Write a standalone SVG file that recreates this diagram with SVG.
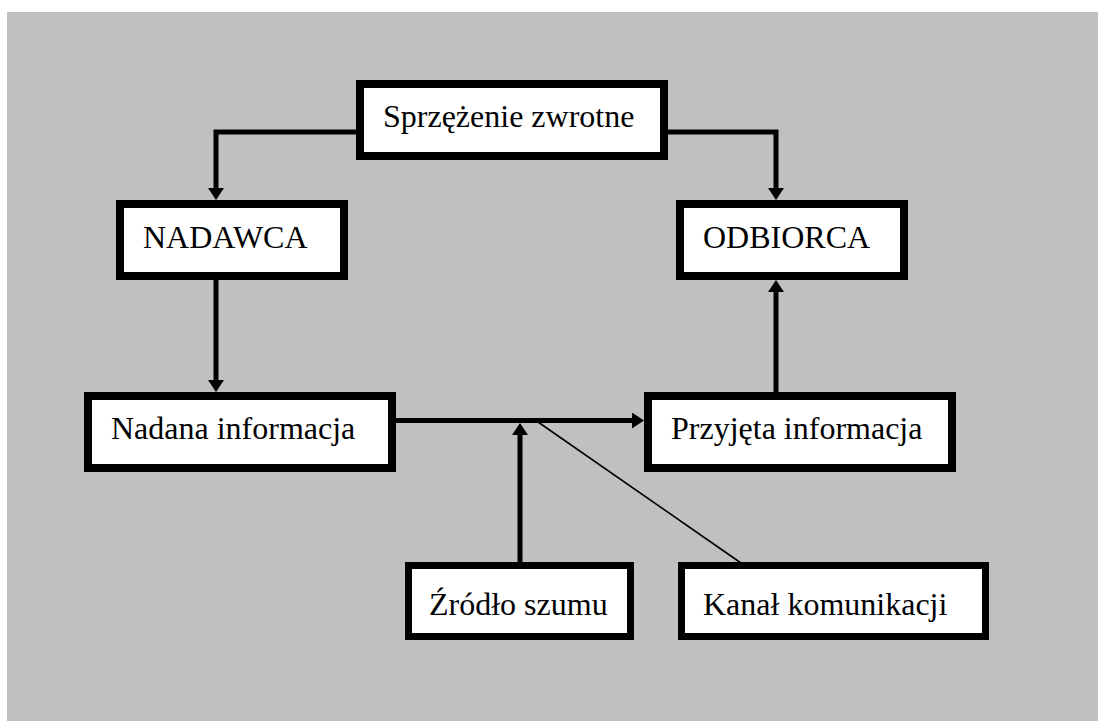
<svg xmlns="http://www.w3.org/2000/svg" width="1098" height="723" viewBox="0 0 1098 723">
<style>
.box{fill:#fff;stroke:#000;stroke-width:8}
.box2{fill:#fff;stroke:#000;stroke-width:7}
.lbl{font-size:32px;fill:#000}
.con{fill:none;stroke:#000;stroke-width:5;stroke-linejoin:miter}
.thin{fill:none;stroke:#000;stroke-width:1.6}
</style>
<defs>
<marker id="ah" viewBox="0 0 12 16" refX="0" refY="8" markerWidth="12" markerHeight="16" markerUnits="userSpaceOnUse" orient="auto">
<path d="M0,0 L12,8 L0,16 Z" fill="#000"/>
</marker>
</defs>
<rect x="0" y="0" width="1098" height="723" fill="#fff"/>
<rect x="7" y="12" width="1091" height="709" fill="#c0c0c0"/>
<g id="connectors">
<path class="con" d="M358 132 H216 V188" marker-end="url(#ah)"/>
<path class="con" d="M666 132 H776 V188" marker-end="url(#ah)"/>
<path class="con" d="M216 278 V380" marker-end="url(#ah)"/>
<path class="con" d="M776 394 V292" marker-end="url(#ah)"/>
<path class="con" d="M394 420.5 H632" marker-end="url(#ah)"/>
<path class="con" d="M520 562 V435" marker-end="url(#ah)"/>
<path class="thin" d="M538 422 L741 563"/>
</g>
<g font-family="'Liberation Serif', 'DejaVu Serif', serif">
<g id="sprzezenie">
<rect class="box" x="360" y="84" width="304" height="72"/>
<text class="lbl" x="383" y="127">Sprzężenie zwrotne</text>
</g>
<g id="nadawca">
<rect class="box" x="120" y="204" width="224" height="72"/>
<text class="lbl" x="143" y="248">NADAWCA</text>
</g>
<g id="odbiorca">
<rect class="box" x="680" y="204" width="224" height="72"/>
<text class="lbl" x="703" y="248">ODBIORCA</text>
</g>
<g id="nadana">
<rect class="box" x="88" y="396" width="304" height="72"/>
<text class="lbl" x="111" y="439">Nadana informacja</text>
</g>
<g id="przyjeta">
<rect class="box" x="648" y="396" width="304" height="72"/>
<text class="lbl" x="671" y="439">Przyjęta informacja</text>
</g>
<g id="zrodlo">
<rect class="box2" x="408.5" y="565.5" width="222" height="71"/>
<text class="lbl" x="429" y="615">Źródło szumu</text>
</g>
<g id="kanal">
<rect class="box2" x="681.5" y="565.5" width="304" height="71"/>
<text class="lbl" x="703" y="615">Kanał komunikacji</text>
</g>
</g>
</svg>
